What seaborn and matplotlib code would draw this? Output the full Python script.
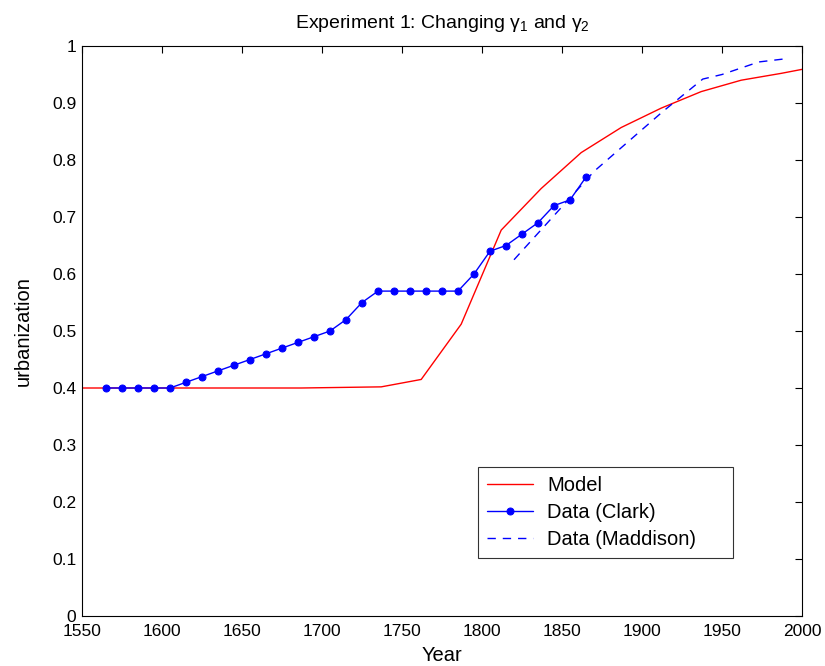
import pandas as pd
import matplotlib
matplotlib.use("Agg")
import matplotlib.pyplot as plt
import seaborn as sns

# data
model_years = [1550, 1587, 1637, 1687, 1712, 1737, 1762, 1787, 1812, 1837,
               1862, 1887, 1912, 1937, 1962, 1987, 2000]
model_urb = [0.400, 0.400, 0.400, 0.400, 0.401, 0.402, 0.415, 0.512, 0.677, 0.750,
             0.813, 0.857, 0.891, 0.920, 0.940, 0.952, 0.959]

clark_years = list(range(1565, 1866, 10))
clark_urb = [0.40, 0.40, 0.40, 0.40, 0.40, 0.41, 0.42, 0.43, 0.44, 0.45,
             0.46, 0.47, 0.48, 0.49, 0.50, 0.52, 0.55, 0.57, 0.57, 0.57,
             0.57, 0.57, 0.57, 0.60, 0.64, 0.65, 0.67, 0.69, 0.72, 0.73, 0.77]

maddison_years = [1820, 1870, 1913, 1938, 1950, 1973, 1988]
maddison_urb = [0.625, 0.78, 0.885, 0.942, 0.950, 0.972, 0.977]

sns.set_style("white")
plt.rcParams['font.family'] = ['Liberation Sans', 'DejaVu Sans']
plt.rcParams['mathtext.fontset'] = 'custom'
plt.rcParams['mathtext.rm'] = 'Liberation Sans'
plt.rcParams['mathtext.it'] = 'Liberation Sans'
plt.rcParams['text.color'] = 'black'
plt.rcParams['axes.labelcolor'] = 'black'
plt.rcParams['xtick.color'] = 'black'
plt.rcParams['ytick.color'] = 'black'

fig = plt.figure(figsize=(8.25, 6.66), dpi=100)
ax = fig.add_axes([82 / 825, 1 - 616 / 666, 720 / 825, 570 / 666])

sns.lineplot(x=model_years, y=model_urb, ax=ax, color='red', linewidth=1.0,
             label='Model')
sns.lineplot(x=clark_years, y=clark_urb, ax=ax, color='blue', linewidth=1.0,
             marker='o', markersize=5, markeredgecolor='blue',
             label='Data (Clark)')
sns.lineplot(x=maddison_years, y=maddison_urb, ax=ax, color='blue', linewidth=1.0,
             linestyle=(0, (6, 5)), label='Data (Maddison)')

ax.set_xlim(1550, 2000)
ax.set_ylim(0, 1)
ax.set_xticks(range(1550, 2001, 50))
ax.set_yticks([i / 10 for i in range(11)])
ax.set_yticklabels(['0', '0.1', '0.2', '0.3', '0.4', '0.5', '0.6', '0.7', '0.8', '0.9', '1'])
ax.tick_params(direction='in', length=5, width=0.8, labelsize=12.5,
               top=True, right=True, colors='black', pad=4)
ax.tick_params(axis='x', pad=6)
for s in ax.spines.values():
    s.set_color('black')
    s.set_linewidth(0.8)

ax.set_xlabel('Year', fontsize=14.5, labelpad=5)
ax.set_ylabel('urbanization', fontsize=14.5, labelpad=14)
ax.set_title(r'Experiment 1: Changing $\mathrm{\gamma}_1$ and $\mathrm{\gamma}_2$',
             fontsize=14, pad=13)

leg = ax.legend(loc='lower left', bbox_to_anchor=(0.55, 0.102, 0.354, 0.158),
                mode='expand', fontsize=14.5, frameon=True, fancybox=False,
                borderaxespad=0, handlelength=2.3, labelspacing=0.4,
                borderpad=0.45, handletextpad=0.7)
leg.get_frame().set_edgecolor('black')
leg.get_frame().set_linewidth(0.8)

fig.savefig('out.png', dpi=100, facecolor='white')
